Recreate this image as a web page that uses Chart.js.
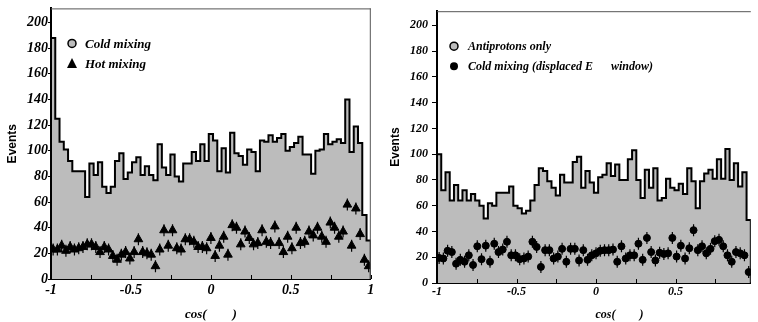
<!DOCTYPE html>
<html>
<head>
<meta charset="utf-8">
<title>cos distributions</title>
<script src="https://cdn.jsdelivr.net/npm/chart.js@4.4.1/dist/chart.umd.min.js"></script>
<style>
body { margin: 0; background: #fff; }
#wrap { position: relative; width: 758px; height: 322px; overflow: hidden; }
#leftChart { position: absolute; left: 0; top: 0; }
#rightChart { position: absolute; left: 378px; top: 0; }
</style>
</head>
<body>
<div id="wrap">
  <canvas id="leftChart" width="378" height="322"></canvas>
  <canvas id="rightChart" width="380" height="322"></canvas>
</div>
<script>
// both panels: 75 bins of cos between -1 and 1
var nBins = 75;
var xTicks = [-1, -0.5, 0, 0.5, 1];
var xInnerTicks = [-1, -0.75, -0.5, -0.25, 0, 0.25, 0.5, 0.75, 1];
var yTicks = [0, 20, 40, 60, 80, 100, 120, 140, 160, 180, 200];
var yMax = 211;
var rightXMax = 0.9733; // right panel is cut at the page edge

// left panel
var coldMixing = [188,125,107,101,92,84,84,84,64,90,81,91,72,67,72,92,98,78,83,91,
  95,81,88,81,77,105,87,81,97,80,76,90,90,99,92,105,92,113,108,84,
  102,83,114,98,96,89,101,99,84,108,107,112,107,110,113,100,103,106,111,97,
  97,82,100,101,113,105,107,109,106,140,99,119,106,50,30];
var hotMixing = [23,23,26,22,25,23,24,25,27,27,25,21,25,23,18,15,19,21,16,21,
  31,21,20,19,10,23,38,26,38,24,23,31,31,29,25,25,24,32,18,26,
  33,19,42,40,27,37,32,27,28,38,29,28,41,28,21,33,24,40,28,29,
  37,34,40,33,29,44,40,33,37,58,26,55,35,15,10];

// right panel
var antiprotonsOnly = [100,72,86,64,76,64,72,64,69,64,60,50,62,60,70,70,70,75,60,58,
  54,56,64,76,89,87,79,74,68,84,78,78,94,98,74,87,78,70,82,84,
  93,83,92,80,80,96,103,80,66,88,74,89,64,66,81,74,72,77,69,89,
  79,58,79,85,88,81,96,81,104,80,93,75,86,49];
var coldDisplaced = [19.5,19,25,24,15,18,16.5,21.5,14,28.5,18.5,29,16.5,30.5,24,26,32,21.5,21.5,18.5,
  19,20.5,32,28,12.5,25.5,25.5,19,20.5,26.5,16.5,26.5,26.5,17.5,25.5,18,21.5,23,25,25.5,
  25.5,26,16.5,28.5,19,21.5,21.5,30.5,18,35,24,17.5,23.5,22.5,23,35,20.5,29,19,27,
  41,25.5,28.5,23,26.5,32.5,33.5,28.5,21.5,16.5,24,23,21.5,8.5];

var leftLegend = ["Cold mixing", "Hot mixing"];
var rightLegend = ["Antiprotons only", "Cold mixing (displaced E      window)"];
var yTitle = "Events";
var xTitleLeft = "cos(        )";
var xTitleRight = "                 cos(        )"; // sits right of centre in the original

var histFill = "#bcbcbc";
var binW = 2 / nBins;

// outline of a histogram as stepped points (left bin edges)
function histPoints(values) {
  var pts = [{x: -1, y: 0}];
  values.forEach(function(v, i) { pts.push({x: -1 + i * binW, y: v}); });
  pts.push({x: -1 + values.length * binW, y: 0});
  return pts;
}
function centerPoints(values) {
  return values.map(function(v, i) { return {x: -1 + (i + 0.5) * binW, y: v}; });
}

var decor = {
  id: 'decor',
  afterDatasetsDraw: function(chart, args, opts) {
    var ctx = chart.ctx, a = chart.chartArea;
    var xs = chart.scales.x;
    ctx.save();
    // frame top / right
    ctx.strokeStyle = '#555';
    ctx.lineWidth = 1;
    ctx.beginPath();
    ctx.moveTo(a.left, a.top + 0.5);
    ctx.lineTo(a.right, a.top + 0.5);
    if (opts.rightFrame) {
      ctx.moveTo(a.right - 0.5, a.top);
      ctx.lineTo(a.right - 0.5, a.bottom);
    }
    ctx.stroke();
    // small ticks inside on the x axis
    ctx.strokeStyle = '#000';
    ctx.beginPath();
    xInnerTicks.forEach(function(t) {
      if (t < xs.min || t > xs.max) return;
      var px = Math.round(xs.getPixelForValue(t)) + 0.5;
      ctx.moveTo(px, a.bottom);
      ctx.lineTo(px, a.bottom - 4);
    });
    ctx.stroke();
    // legend
    ctx.font = opts.font;
    ctx.textBaseline = 'middle';
    ctx.fillStyle = '#000';
    opts.items.forEach(function(it, k) {
      var sx = a.left + opts.symX, sy = a.top + opts.rowY[k];
      ctx.beginPath();
      if (it.style === 'triangle') {
        ctx.moveTo(sx, sy - 5.5);
        ctx.lineTo(sx + 5, sy + 4.5);
        ctx.lineTo(sx - 5, sy + 4.5);
        ctx.closePath();
        ctx.fillStyle = '#000';
        ctx.fill();
      } else if (it.style === 'dot') {
        ctx.arc(sx, sy, 4, 0, Math.PI * 2);
        ctx.fillStyle = '#000';
        ctx.fill();
      } else {
        ctx.arc(sx, sy, 4, 0, Math.PI * 2);
        ctx.fillStyle = histFill;
        ctx.fill();
        ctx.lineWidth = 1.5;
        ctx.strokeStyle = '#000';
        ctx.stroke();
      }
      ctx.fillStyle = '#000';
      ctx.fillText(it.label, a.left + opts.textX, sy + 1);
    });
    ctx.restore();
  }
};

function makeChart(id, cfg) {
  var tickFont = {family: '"Liberation Serif", serif', size: cfg.tickSize, style: 'italic', weight: 'bold'};
  return new Chart(document.getElementById(id), {
    data: {
      datasets: [
        {
          type: 'line',
          data: histPoints(cfg.hist),
          stepped: true,
          fill: 'origin',
          backgroundColor: histFill,
          borderColor: '#000',
          borderWidth: 2,
          pointRadius: 0,
          order: 3
        },
        {
          type: 'scatter',
          data: centerPoints(cfg.marks),
          pointStyle: 'line',
          rotation: 90,
          radius: 6,
          borderColor: '#000',
          borderWidth: 1.2,
          order: 2
        },
        {
          type: 'scatter',
          data: centerPoints(cfg.marks),
          pointStyle: cfg.markStyle,
          radius: cfg.markRadius,
          backgroundColor: '#000',
          borderColor: '#000',
          borderWidth: 1,
          order: 1
        }
      ]
    },
    options: {
      responsive: false,
      animation: false,
      events: [],
      layout: {padding: {top: 8, right: cfg.padRight, left: 0, bottom: 0}},
      plugins: {
        legend: {display: false},
        tooltip: {enabled: false},
        decor: cfg.decor
      },
      scales: {
        x: {
          type: 'linear',
          min: -1,
          max: cfg.xMax,
          afterBuildTicks: function(s) { s.ticks = xTicks.filter(function(v) { return v <= cfg.xMax; }).map(function(v) { return {value: v}; }); },
          afterFit: function(s) { s.height = cfg.xHeight; },
          grid: {display: false, drawTicks: false},
          border: {display: true, color: '#000', width: 2},
          ticks: {color: '#000', font: tickFont, padding: cfg.xPad, maxRotation: 0, autoSkip: false,
            callback: function(v) { return String(v); }},
          title: {display: true, text: cfg.xTitle, color: '#000', padding: {top: 0, bottom: 0},
            font: {family: '"Liberation Serif", serif', size: cfg.titleSize, style: 'italic', weight: 'bold'}}
        },
        y: {
          type: 'linear',
          min: 0,
          max: yMax,
          afterBuildTicks: function(s) { s.ticks = yTicks.map(function(v) { return {value: v}; }); },
          afterFit: function(s) { s.width = cfg.yWidth; },
          grid: {display: true, drawOnChartArea: false, drawTicks: true, tickLength: cfg.tickLen, color: '#000', lineWidth: 1},
          border: {display: true, color: '#000', width: 2},
          ticks: {color: '#000', font: tickFont, padding: cfg.yPad, callback: function(v) { return String(v); }},
          title: {display: true, text: yTitle, color: '#000', padding: {top: cfg.yTitlePad, bottom: 0},
            font: {family: '"Liberation Sans", Arial, sans-serif', size: 12, weight: 'bold'}}
        }
      }
    },
    plugins: [decor]
  });
}

makeChart('leftChart', {
  hist: coldMixing, marks: hotMixing, markStyle: 'triangle', markRadius: 5,
  xMax: 1, padRight: 6, xHeight: 43, yWidth: 51, tickSize: 14, titleSize: 13,
  xPad: 3, yPad: 0, tickLen: 3, yTitlePad: 5, xTitle: xTitleLeft,
  decor: {rightFrame: true, font: 'italic bold 13px "Liberation Serif"', symX: 21, textX: 34, rowY: [35, 55],
    items: [{label: leftLegend[0], style: 'circle'}, {label: leftLegend[1], style: 'triangle'}]}
});

makeChart('rightChart', {
  hist: antiprotonsOnly, marks: coldDisplaced, markStyle: 'circle', markRadius: 3.5,
  xMax: rightXMax, padRight: 1, xHeight: 39, yWidth: 59, tickSize: 12, titleSize: 12,
  xPad: 2, yPad: 4, tickLen: 5, yTitlePad: 10, xTitle: xTitleRight,
  decor: {rightFrame: false, font: 'italic bold 12px "Liberation Serif"', symX: 17, textX: 31, rowY: [35, 55],
    items: [{label: rightLegend[0], style: 'circle'}, {label: rightLegend[1], style: 'dot'}]}
});
</script>
</body>
</html>
